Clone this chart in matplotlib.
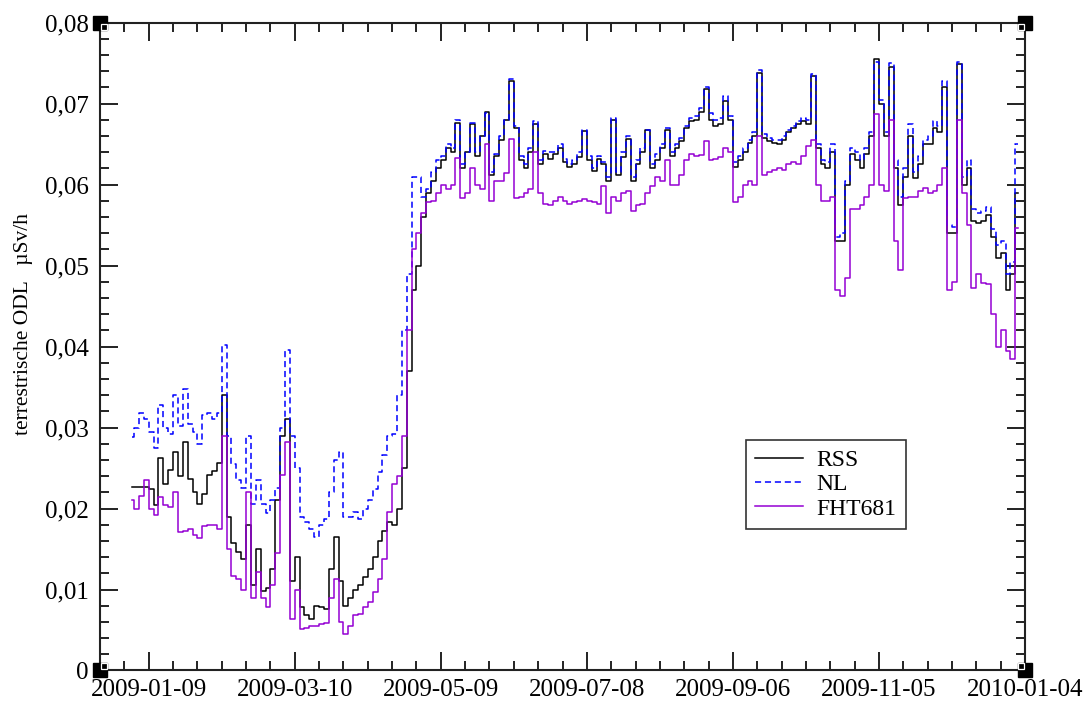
import numpy as np
import pandas as pd
import matplotlib
matplotlib.use("Agg")
import matplotlib.pyplot as plt
import matplotlib.dates as mdates
from matplotlib.ticker import FixedLocator, FixedFormatter, MultipleLocator
from matplotlib.transforms import offset_copy

plt.rcParams["font.family"] = ["Liberation Serif", "DejaVu Serif"]

# sampling: every second day from 2009-01-02
start_date = "2009-01-02"
step_days = 2

rss = [
    0.0227, 0.0227, 0.0227, 0.0227, 0.0224, 0.0204, 0.0262, 0.0230, 0.0248, 0.0270,
    0.0240, 0.0282, 0.0236, 0.0220, 0.0205, 0.0218, 0.0242, 0.0246, 0.0256, 0.0340,
    0.0190, 0.0158, 0.0146, 0.0138, 0.0180, 0.0105, 0.0150, 0.0098, 0.0102, 0.0125,
    0.0210, 0.0290, 0.0310, 0.0110, 0.0140, 0.0078, 0.0068, 0.0063, 0.0080, 0.0078,
    0.0076, 0.0125, 0.0165, 0.0110, 0.0080, 0.0090, 0.0100, 0.0105, 0.0115, 0.0125,
    0.0140, 0.0160, 0.0172, 0.0183, 0.0180, 0.0200, 0.0250, 0.0370, 0.0470, 0.0500,
    0.0560, 0.0590, 0.0605, 0.0620, 0.0630, 0.0645, 0.0640, 0.0676, 0.0620, 0.0640,
    0.0675, 0.0635, 0.0660, 0.0690, 0.0612, 0.0635, 0.0655, 0.0680, 0.0728, 0.0670,
    0.0630, 0.0620, 0.0640, 0.0675, 0.0625, 0.0638, 0.0632, 0.0638, 0.0645, 0.0628,
    0.0622, 0.0625, 0.0634, 0.0666, 0.0630, 0.0617, 0.0632, 0.0625, 0.0604, 0.0680,
    0.0612, 0.0634, 0.0656, 0.0604, 0.0625, 0.0640, 0.0668, 0.0620, 0.0630, 0.0645,
    0.0668, 0.0635, 0.0645, 0.0654, 0.0670, 0.0679, 0.0680, 0.0690, 0.0718, 0.0680,
    0.0672, 0.0675, 0.0703, 0.0680, 0.0622, 0.0630, 0.0640, 0.0652, 0.0660, 0.0738,
    0.0658, 0.0654, 0.0652, 0.0650, 0.0655, 0.0665, 0.0670, 0.0675, 0.0679, 0.0675,
    0.0734, 0.0645, 0.0625, 0.0620, 0.0640, 0.0530, 0.0530, 0.0600, 0.0638, 0.0630,
    0.0620, 0.0638, 0.0660, 0.0755, 0.0700, 0.0660, 0.0745, 0.0620, 0.0575, 0.0610,
    0.0660, 0.0608, 0.0625, 0.0650, 0.0650, 0.0670, 0.0665, 0.0720, 0.0540, 0.0540,
    0.0749, 0.0600, 0.0620, 0.0555, 0.0552, 0.0555, 0.0562, 0.0535, 0.0510, 0.0515,
    0.0470, 0.0490, 0.0590,
]

nl = [
    0.0288, 0.0300, 0.0318, 0.0310, 0.0295, 0.0275, 0.0328, 0.0300, 0.0292, 0.0340,
    0.0302, 0.0347, 0.0305, 0.0295, 0.0280, 0.0315, 0.0318, 0.0310, 0.0318, 0.0402,
    0.0290, 0.0255, 0.0235, 0.0225, 0.0290, 0.0205, 0.0235, 0.0205, 0.0195, 0.0210,
    0.0225, 0.0300, 0.0396, 0.0290, 0.0250, 0.0190, 0.0183, 0.0175, 0.0165, 0.0180,
    0.0187, 0.0220, 0.0260, 0.0270, 0.0190, 0.0190, 0.0196, 0.0187, 0.0200, 0.0210,
    0.0224, 0.0245, 0.0266, 0.0290, 0.0292, 0.0340, 0.0420, 0.0490, 0.0610, 0.0610,
    0.0585, 0.0595, 0.0615, 0.0630, 0.0635, 0.0650, 0.0645, 0.0680, 0.0625, 0.0640,
    0.0676, 0.0640, 0.0660, 0.0688, 0.0615, 0.0638, 0.0660, 0.0680, 0.0730, 0.0672,
    0.0635, 0.0625, 0.0645, 0.0678, 0.0630, 0.0642, 0.0640, 0.0640, 0.0650, 0.0632,
    0.0625, 0.0630, 0.0640, 0.0668, 0.0635, 0.0620, 0.0635, 0.0628, 0.0610, 0.0682,
    0.0615, 0.0640, 0.0660, 0.0610, 0.0630, 0.0645, 0.0668, 0.0625, 0.0638, 0.0650,
    0.0670, 0.0640, 0.0650, 0.0658, 0.0672, 0.0682, 0.0685, 0.0695, 0.0720, 0.0688,
    0.0680, 0.0682, 0.0710, 0.0685, 0.0628, 0.0635, 0.0645, 0.0655, 0.0665, 0.0742,
    0.0662, 0.0658, 0.0655, 0.0655, 0.0660, 0.0668, 0.0672, 0.0678, 0.0682, 0.0680,
    0.0736, 0.0650, 0.0630, 0.0628, 0.0650, 0.0535, 0.0540, 0.0605, 0.0645, 0.0640,
    0.0630, 0.0645, 0.0665, 0.0752, 0.0705, 0.0665, 0.0750, 0.0630, 0.0585, 0.0620,
    0.0675, 0.0615, 0.0635, 0.0655, 0.0660, 0.0678, 0.0672, 0.0728, 0.0550, 0.0548,
    0.0752, 0.0610, 0.0630, 0.0570, 0.0565, 0.0568, 0.0572, 0.0545, 0.0525, 0.0530,
    0.0490, 0.0505, 0.0650,
]

fht681 = [
    0.0210, 0.0200, 0.0215, 0.0235, 0.0200, 0.0192, 0.0214, 0.0204, 0.0202, 0.0220,
    0.0171, 0.0172, 0.0175, 0.0167, 0.0163, 0.0178, 0.0180, 0.0180, 0.0175, 0.0290,
    0.0150, 0.0117, 0.0113, 0.0100, 0.0220, 0.0090, 0.0121, 0.0090, 0.0078, 0.0105,
    0.0145, 0.0241, 0.0282, 0.0063, 0.0100, 0.0051, 0.0053, 0.0055, 0.0055, 0.0057,
    0.0059, 0.0090, 0.0113, 0.0060, 0.0045, 0.0055, 0.0068, 0.0070, 0.0078, 0.0085,
    0.0097, 0.0113, 0.0138, 0.0196, 0.0230, 0.0240, 0.0290, 0.0420, 0.0520, 0.0540,
    0.0565, 0.0578, 0.0580, 0.0590, 0.0600, 0.0595, 0.0600, 0.0633, 0.0583, 0.0590,
    0.0620, 0.0600, 0.0595, 0.0650, 0.0580, 0.0605, 0.0605, 0.0614, 0.0656, 0.0583,
    0.0585, 0.0590, 0.0595, 0.0640, 0.0590, 0.0576, 0.0575, 0.0580, 0.0585, 0.0580,
    0.0576, 0.0578, 0.0580, 0.0582, 0.0580, 0.0578, 0.0576, 0.0598, 0.0565, 0.0585,
    0.0580, 0.0590, 0.0592, 0.0567, 0.0575, 0.0576, 0.0590, 0.0598, 0.0610, 0.0605,
    0.0630, 0.0600, 0.0600, 0.0612, 0.0630, 0.0638, 0.0635, 0.0636, 0.0654, 0.0630,
    0.0632, 0.0634, 0.0645, 0.0640, 0.0578, 0.0585, 0.0600, 0.0605, 0.0600, 0.0660,
    0.0612, 0.0615, 0.0618, 0.0620, 0.0618, 0.0625, 0.0628, 0.0625, 0.0635, 0.0648,
    0.0655, 0.0600, 0.0580, 0.0580, 0.0585, 0.0470, 0.0462, 0.0485, 0.0570, 0.0570,
    0.0575, 0.0585, 0.0600, 0.0687, 0.0600, 0.0592, 0.0680, 0.0530, 0.0495, 0.0583,
    0.0585, 0.0585, 0.0592, 0.0596, 0.0590, 0.0592, 0.0600, 0.0620, 0.0470, 0.0480,
    0.0680, 0.0590, 0.0550, 0.0472, 0.0490, 0.0478, 0.0477, 0.0440, 0.0400, 0.0420,
    0.0395, 0.0385, 0.0546,
]

x_major_labels = ["2009-01-09", "2009-03-10", "2009-05-09", "2009-07-08",
                  "2009-09-06", "2009-11-05", "2010-01-04"]
y_major = [0.0, 0.01, 0.02, 0.03, 0.04, 0.05, 0.06, 0.07, 0.08]
y_major_labels = ["0", "0,01", "0,02", "0,03", "0,04", "0,05", "0,06", "0,07", "0,08"]
x_range = ("2008-12-20", "2010-01-04")

series_names = ["RSS", "NL", "FHT681"]
series_colors = ["#000000", "#0000ff", "#9400d3"]

dates = pd.date_range(start_date, periods=len(rss), freq=f"{step_days}D")

fig = plt.figure(figsize=(10.87, 7.02), dpi=100)
ax = fig.add_axes([0.092, 0.0449, 0.851, 0.9228])

ax.plot(dates, rss, drawstyle="steps-mid", color=series_colors[0], lw=1.1,
        label=series_names[0], zorder=3)
ax.plot(dates, nl, drawstyle="steps-mid", color=series_colors[1], lw=1.1,
        dashes=(4, 2.5), label=series_names[1], zorder=4)
ax.plot(dates, fht681, drawstyle="steps-mid", color=series_colors[2], lw=1.1,
        label=series_names[2], zorder=5)

x0, x1 = pd.Timestamp(x_range[0]), pd.Timestamp(x_range[1])
ax.set_xlim(x0, x1)
ax.set_ylim(y_major[0], y_major[-1])

major_pos = [mdates.date2num(pd.Timestamp(s)) for s in x_major_labels]
minor_pos = [mdates.date2num(d) for d in pd.date_range(x0, x1, freq="10D")]
ax.xaxis.set_major_locator(FixedLocator(major_pos))
ax.xaxis.set_major_formatter(FixedFormatter(x_major_labels))
ax.xaxis.set_minor_locator(FixedLocator(minor_pos))
ax.yaxis.set_major_locator(FixedLocator(y_major))
ax.yaxis.set_major_formatter(FixedFormatter(y_major_labels))
ax.yaxis.set_minor_locator(MultipleLocator(0.002))

ax.tick_params(which="both", direction="in", top=True, right=True,
               width=1.4, color="#222222")
ax.tick_params(which="major", length=13, labelsize=18)
ax.tick_params(which="minor", length=6.5)
ax.tick_params(axis="y", which="major", pad=8)
ax.tick_params(axis="x", which="major", pad=6)
for sp in ax.spines.values():
    sp.set_linewidth(1.5)
    sp.set_color("#222222")

ax.set_ylabel("terrestrische ODL   µSv/h", fontsize=15.5)
ax.yaxis.set_label_coords(-0.072, 0.535)

leg = ax.legend(loc="upper left", bbox_to_anchor=(746 / 1087, 1 - 440 / 702),
                bbox_transform=fig.transFigure, fontsize=17, frameon=True,
                fancybox=False, shadow=False, handlelength=2.0,
                handletextpad=0.6, labelspacing=0.12, borderpad=0.4,
                borderaxespad=0)
leg.get_frame().set_edgecolor("black")
leg.get_frame().set_linewidth(1.2)

# corner markers
for cx, cy in [(0, 0), (1, 0), (0, 1), (1, 1)]:
    ax.plot([cx], [cy], marker="s", markersize=10, color="black",
            transform=ax.transAxes, clip_on=False, zorder=10)
    dx = 3.2 if cx == 0 else -3.2
    dy = 3.2 if cy == 0 else -3.2
    tr = offset_copy(ax.transAxes, fig=fig, x=dx, y=dy, units="points")
    ax.plot([cx], [cy], marker="s", markersize=4, markerfacecolor="black",
            markeredgecolor="white", markeredgewidth=0.9,
            transform=tr, clip_on=False, zorder=11)

fig.savefig("out.png", dpi=100)
